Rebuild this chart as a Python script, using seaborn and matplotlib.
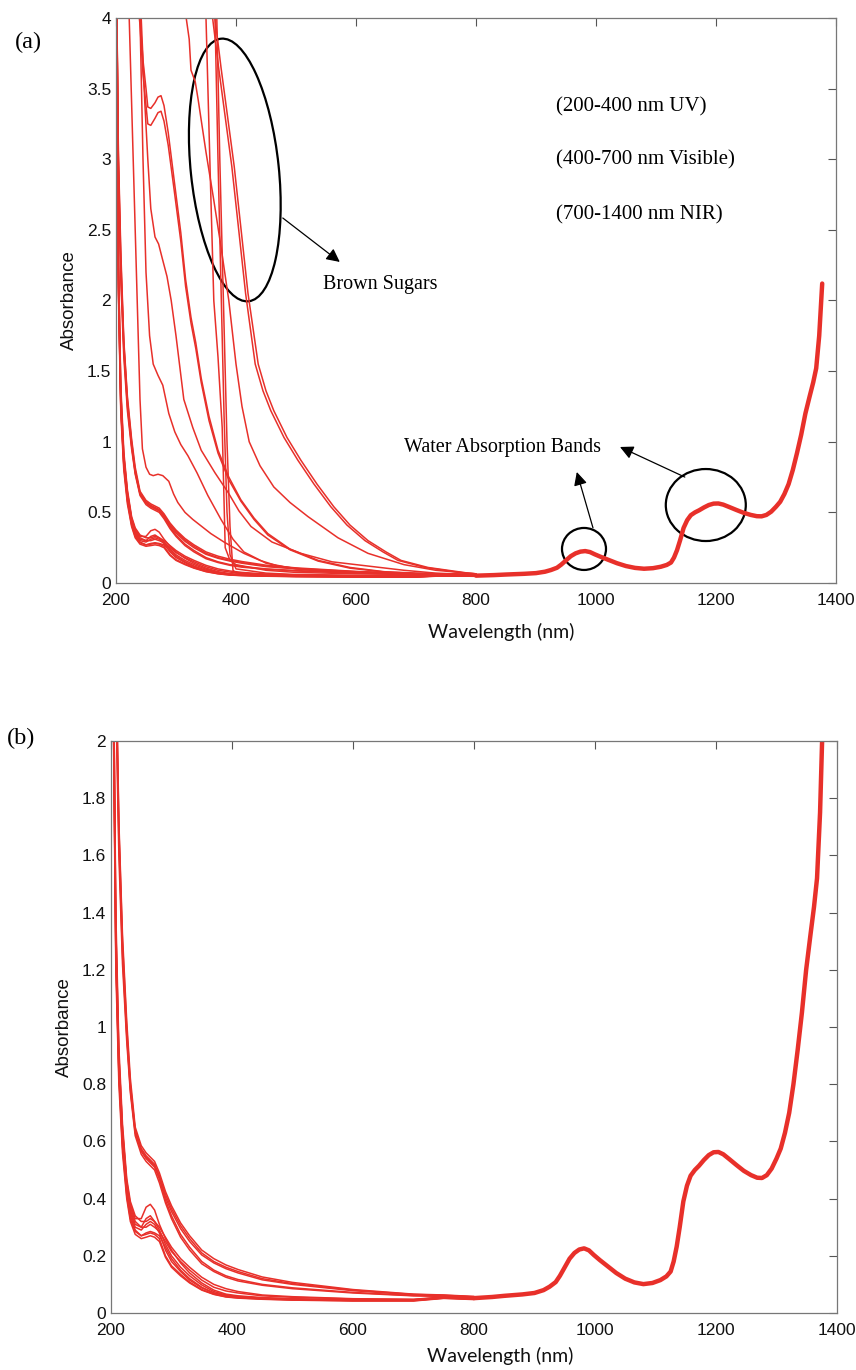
import pandas as pd
import matplotlib
matplotlib.use("Agg")
import matplotlib.pyplot as plt
import seaborn as sns
from matplotlib.patches import Circle
from matplotlib.transforms import Affine2D, ScaledTranslation
from matplotlib.ticker import FormatStrFormatter

RED = "#e8302a"

### DATA ###

# UV-Vis grid shared by the white-sugar spectra (nm)
uv_wl = [200, 204, 208, 213, 219, 226, 232, 240, 250, 258, 265, 272, 280, 290,
         300, 315, 330, 350, 370, 390, 410, 450, 500, 600, 700, 750, 800]

# white sugars, upper bundle (shoulder ~0.52 at 270 nm)
white_u1 = [4.6, 3.0, 2.3, 1.7, 1.3, 1.0, 0.8, 0.64, 0.575, 0.55, 0.535, 0.52, 0.48, 0.415,
            0.365, 0.305, 0.26, 0.21, 0.18, 0.16, 0.145, 0.12, 0.103, 0.08, 0.065, 0.062, 0.057]
white_u2 = [4.6, 2.9, 2.2, 1.65, 1.25, 0.97, 0.78, 0.63, 0.565, 0.54, 0.525, 0.51, 0.47, 0.405,
            0.355, 0.295, 0.25, 0.203, 0.175, 0.155, 0.14, 0.116, 0.1, 0.078, 0.064, 0.061, 0.056]
white_u3 = [4.6, 2.95, 2.25, 1.68, 1.27, 0.98, 0.79, 0.635, 0.57, 0.545, 0.53, 0.515, 0.47, 0.395,
            0.34, 0.275, 0.23, 0.18, 0.15, 0.13, 0.117, 0.1, 0.088, 0.072, 0.061, 0.059, 0.055]
white_u4 = [4.6, 2.85, 2.15, 1.6, 1.22, 0.95, 0.77, 0.62, 0.555, 0.53, 0.515, 0.5, 0.455, 0.385,
            0.33, 0.265, 0.22, 0.172, 0.145, 0.125, 0.112, 0.097, 0.085, 0.07, 0.06, 0.058, 0.054]
white_u5 = [4.6, 3.05, 2.35, 1.72, 1.32, 1.02, 0.82, 0.65, 0.585, 0.56, 0.545, 0.53, 0.49, 0.425,
            0.375, 0.315, 0.27, 0.22, 0.19, 0.168, 0.152, 0.126, 0.107, 0.082, 0.066, 0.063, 0.058]

# white sugars, lower bundle (small band ~0.3 at 262 nm)
white_l1 = [4.6, 2.3, 1.35, 0.9, 0.64, 0.46, 0.38, 0.33, 0.33, 0.37, 0.38, 0.36, 0.31, 0.26,
            0.22, 0.175, 0.14, 0.105, 0.08, 0.066, 0.06, 0.054, 0.05, 0.046, 0.046, 0.055, 0.05]
white_l2 = [4.6, 2.2, 1.3, 0.87, 0.62, 0.44, 0.36, 0.31, 0.3, 0.33, 0.34, 0.32, 0.29, 0.24,
            0.2, 0.16, 0.13, 0.098, 0.075, 0.063, 0.058, 0.052, 0.049, 0.045, 0.045, 0.054, 0.05]
white_l3 = [4.6, 2.15, 1.27, 0.85, 0.6, 0.43, 0.35, 0.3, 0.29, 0.31, 0.32, 0.31, 0.28, 0.22,
            0.18, 0.145, 0.115, 0.088, 0.07, 0.06, 0.055, 0.05, 0.047, 0.044, 0.044, 0.053, 0.049]
white_l4 = [4.6, 2.1, 1.24, 0.83, 0.58, 0.41, 0.33, 0.285, 0.27, 0.275, 0.28, 0.275, 0.26, 0.2,
            0.165, 0.135, 0.108, 0.082, 0.066, 0.057, 0.053, 0.049, 0.046, 0.043, 0.043, 0.052, 0.048]
white_l5 = [4.6, 2.05, 1.2, 0.8, 0.56, 0.4, 0.32, 0.275, 0.26, 0.265, 0.27, 0.265, 0.25, 0.195,
            0.16, 0.13, 0.105, 0.08, 0.065, 0.056, 0.052, 0.048, 0.045, 0.042, 0.042, 0.051, 0.047]
white_l6 = [4.6, 2.3, 1.4, 0.93, 0.66, 0.47, 0.39, 0.34, 0.32, 0.32, 0.33, 0.32, 0.3, 0.265,
            0.23, 0.19, 0.16, 0.125, 0.1, 0.085, 0.075, 0.063, 0.057, 0.05, 0.048, 0.056, 0.052]
white_l7 = [4.6, 2.25, 1.35, 0.9, 0.64, 0.45, 0.37, 0.32, 0.3, 0.3, 0.31, 0.3, 0.285, 0.25,
            0.215, 0.18, 0.15, 0.115, 0.09, 0.077, 0.07, 0.06, 0.055, 0.049, 0.047, 0.055, 0.051]
white_l8 = [4.6, 2.1, 1.25, 0.84, 0.59, 0.42, 0.34, 0.29, 0.27, 0.28, 0.285, 0.28, 0.27, 0.23,
            0.19, 0.15, 0.12, 0.09, 0.07, 0.06, 0.055, 0.05, 0.047, 0.044, 0.044, 0.053, 0.049]

# brown sugars (panel a only), each with its own wavelength points
brown_a_wl = [200, 215, 222, 230, 236, 240, 244, 250, 256, 262, 270, 278, 288, 296, 303,
              315, 328, 343, 358, 380, 413, 440, 470, 525, 600, 700, 800]
brown_a = [4.6, 4.3, 4.0, 2.8, 1.9, 1.3, 0.95, 0.82, 0.77, 0.76, 0.77, 0.76, 0.72, 0.63, 0.57,
           0.5, 0.45, 0.4, 0.35, 0.29, 0.21, 0.16, 0.12, 0.09, 0.075, 0.065, 0.057]

brown_b_wl = [200, 230, 240, 245, 250, 253, 258, 265, 270, 275, 280, 287, 297, 308, 316,
              325, 333, 342, 355, 370, 388, 408, 430, 453, 490, 537, 590, 647, 700, 800]
brown_b1 = [4.6, 4.4, 4.0, 3.7, 3.5, 3.37, 3.36, 3.4, 3.44, 3.45, 3.38, 3.19, 2.85, 2.48, 2.15,
            1.88, 1.7, 1.45, 1.18, 0.94, 0.75, 0.59, 0.46, 0.35, 0.24, 0.16, 0.11, 0.08, 0.07, 0.058]
brown_b2 = [4.6, 4.4, 3.95, 3.6, 3.38, 3.25, 3.24, 3.29, 3.33, 3.34, 3.27, 3.1, 2.78, 2.42, 2.1,
            1.84, 1.66, 1.42, 1.15, 0.92, 0.73, 0.58, 0.45, 0.34, 0.235, 0.155, 0.105, 0.078, 0.068, 0.057]

brown_c_wl = [200, 235, 242, 248, 253, 258, 265, 271, 277, 285, 292, 300, 313, 328, 342,
              365, 387, 405, 425, 460, 508, 560, 620, 680, 733, 800]
brown_c = [4.6, 4.3, 4.0, 3.4, 3.0, 2.65, 2.45, 2.4, 2.3, 2.17, 2.0, 1.75, 1.3, 1.1, 0.94,
           0.78, 0.64, 0.51, 0.4, 0.29, 0.21, 0.15, 0.12, 0.09, 0.07, 0.058]

brown_d_wl = [200, 230, 240, 245, 250, 256, 262, 270, 278, 288, 298, 308, 320, 335, 353,
              375, 395, 413, 450, 500, 560, 630, 700, 800]
brown_d = [4.6, 4.4, 4.0, 3.0, 2.2, 1.75, 1.55, 1.47, 1.4, 1.2, 1.07, 0.98, 0.9, 0.78, 0.62,
           0.45, 0.31, 0.22, 0.14, 0.1, 0.08, 0.07, 0.063, 0.057]

brown_e_wl = [200, 310, 317, 322, 325, 332, 337, 350, 363, 375, 388, 400, 410, 422, 440,
              463, 490, 520, 570, 620, 680, 733, 800]
brown_e = [4.6, 4.3, 4.0, 3.85, 3.63, 3.55, 3.42, 3.05, 2.71, 2.38, 2.0, 1.55, 1.25, 1.0, 0.83,
           0.68, 0.57, 0.47, 0.32, 0.21, 0.13, 0.09, 0.065]

brown_f1_wl = [200, 355, 365, 375, 386, 397, 408, 420, 437, 450, 463, 485, 508, 535, 563,
               590, 620, 650, 675, 720, 787, 800]
brown_f2_wl = [200, 350, 361, 371, 382, 393, 404, 416, 432, 445, 458, 480, 503, 530, 558,
               585, 615, 645, 670, 715, 780, 800]
brown_f = [4.6, 4.3, 4.0, 3.65, 3.3, 2.95, 2.52, 2.05, 1.55, 1.36, 1.22, 1.03, 0.87, 0.7, 0.54,
           0.41, 0.3, 0.22, 0.16, 0.11, 0.07, 0.065]

# near-vertical drops around 350-395 nm
brown_s1_wl = [200, 340, 350, 357, 363, 370, 377, 382, 390, 400, 450, 500, 600, 700, 800]
brown_s1 = [4.6, 4.5, 4.0, 2.9, 2.0, 1.6, 1.1, 0.25, 0.16, 0.13, 0.09, 0.075, 0.065, 0.06, 0.057]
brown_s2_wl = [200, 355, 365, 370, 375, 380, 385, 390, 400, 450, 500, 600, 700, 800]
brown_s2 = [4.6, 4.5, 4.0, 3.0, 2.1, 1.2, 0.5, 0.2, 0.1, 0.07, 0.06, 0.055, 0.05, 0.05]
brown_s3_wl = [200, 360, 368, 373, 379, 385, 390, 395, 400, 450, 500, 600, 700, 800]
brown_s3 = [4.6, 4.5, 4.0, 3.0, 2.0, 1.0, 0.4, 0.09, 0.07, 0.06, 0.055, 0.05, 0.048, 0.048]

# shared NIR part (water bands at ~980 and ~1200 nm)
tail_wl = [800, 830, 850, 880, 900, 915, 925, 935, 942, 950, 958, 966, 974, 982, 990, 998,
           1008, 1020, 1035, 1050, 1065, 1080, 1095, 1108, 1118, 1125, 1130, 1135, 1140,
           1146, 1152, 1158, 1165, 1172, 1180, 1188, 1196, 1204, 1212, 1222, 1234, 1246,
           1258, 1268, 1276, 1284, 1292, 1300, 1307, 1314, 1321, 1328, 1335, 1342, 1349,
           1356, 1362, 1367, 1372, 1377]
tail_abs = [0.052, 0.056, 0.06, 0.065, 0.07, 0.08, 0.092, 0.108, 0.13, 0.16, 0.19, 0.21,
            0.222, 0.226, 0.219, 0.203, 0.185, 0.165, 0.14, 0.12, 0.107, 0.101, 0.105,
            0.115, 0.128, 0.145, 0.18, 0.232, 0.3, 0.39, 0.445, 0.48, 0.5, 0.515, 0.535,
            0.552, 0.562, 0.563, 0.555, 0.538, 0.517, 0.497, 0.482, 0.473, 0.472, 0.482,
            0.505, 0.54, 0.575, 0.63, 0.7, 0.8, 0.92, 1.05, 1.2, 1.32, 1.42, 1.52, 1.75, 2.12]

white = {"U1": white_u1, "U2": white_u2, "U3": white_u3, "U4": white_u4, "U5": white_u5,
         "L1": white_l1, "L2": white_l2, "L3": white_l3, "L4": white_l4,
         "L5": white_l5, "L6": white_l6, "L7": white_l7, "L8": white_l8}
brown = {"A": (brown_a_wl, brown_a), "B1": (brown_b_wl, brown_b1), "B2": (brown_b_wl, brown_b2),
         "C": (brown_c_wl, brown_c), "D": (brown_d_wl, brown_d), "E": (brown_e_wl, brown_e),
         "F1": (brown_f1_wl, brown_f), "F2": (brown_f2_wl, brown_f),
         "S1": (brown_s1_wl, brown_s1), "S2": (brown_s2_wl, brown_s2), "S3": (brown_s3_wl, brown_s3)}

df_white = pd.concat([pd.DataFrame({"wl": uv_wl, "abs": v, "sample": k}) for k, v in white.items()])
df_brown = pd.concat([pd.DataFrame({"wl": w, "abs": v, "sample": k}) for k, (w, v) in brown.items()])
df_all = pd.concat([df_white, df_brown])

### PLOT ###

sns.set_theme(style="white")
plt.rcParams["font.family"] = ["Liberation Sans", "DejaVu Sans"]

W, H = 856, 1370
fig = plt.figure(figsize=(W / 100, H / 100), dpi=100)
ax_a = fig.add_axes([116 / W, 1 - 583 / H, 720 / W, 565 / H])
ax_b = fig.add_axes([111 / W, 1 - 1313 / H, 726 / W, 572 / H])


def draw_spectra(ax, df):
    sns.lineplot(data=df, x="wl", y="abs", units="sample", estimator=None,
                 color=RED, lw=1.1, sort=False, legend=False, ax=ax)
    sns.lineplot(x=tail_wl, y=tail_abs, color=RED, lw=3.2, legend=False, ax=ax)


def style_axes(ax, ymax, ystep, ylab_x, xlab_pos):
    ax.set_xlim(200, 1400)
    ax.set_ylim(0, ymax)
    ax.set_xticks(range(200, 1401, 200))
    ax.set_yticks([i * ystep for i in range(int(round(ymax / ystep)) + 1)])
    ax.yaxis.set_major_formatter(FormatStrFormatter("%g"))
    ax.tick_params(direction="in", top=True, right=True, length=5.5, width=0.8,
                   color="#555555", labelsize=12.5, labelcolor="#111111")
    ax.tick_params(axis="x", pad=7)
    ax.tick_params(axis="y", pad=3.5)
    for s in ax.spines.values():
        s.set_color("#777777")
        s.set_linewidth(0.9)
    ax.set_ylabel("Absorbance", fontsize=13.5, color="#111111")
    ax.yaxis.set_label_coords(ylab_x, 0.5)
    ax.set_xlabel("Wavelength (nm)", fontsize=14, family=["Lato", "DejaVu Sans"],
                  color="#111111", va="center")
    ax.xaxis.set_label_coords(*xlab_pos)


def ring(ax, xc, yc, rx, ry, ang=0):
    # outline sized in pixels, centred at a data position
    tr = Affine2D().scale(rx, ry).rotate_deg(ang) + ScaledTranslation(xc, yc, ax.transData)
    ax.add_patch(Circle((0, 0), 1, transform=tr, fill=False, ec="black", lw=1.6, clip_on=False))


def arrow(ax, start, tip):
    ax.annotate("", xy=tip, xytext=start,
                arrowprops=dict(arrowstyle="-|>", color="black", lw=0.9,
                                mutation_scale=20, shrinkA=0, shrinkB=0))


draw_spectra(ax_a, df_all)
draw_spectra(ax_b, df_white)

style_axes(ax_a, 4, 0.5, -0.053, (0.535, -0.087))
style_axes(ax_b, 2, 0.2, -0.052, (0.536, -0.075))

serif = dict(family=["Liberation Serif", "DejaVu Serif"], color="black")

# panel (a) annotations
ax_a.text(933, 3.37, "(200-400 nm UV)", fontsize=15, va="center", **serif)
ax_a.text(933, 2.995, "(400-700 nm Visible)", fontsize=15, va="center", **serif)
ax_a.text(933, 2.605, "(700-1400 nm NIR)", fontsize=15, va="center", **serif)
ax_a.text(545, 2.11, "Brown Sugars", fontsize=14.5, va="center", **serif)
ax_a.text(845, 0.956, "Water Absorption Bands", fontsize=14.5, va="center", ha="center", **serif)

ring(ax_a, 398, 2.924, 44, 132, 6)
ring(ax_a, 980, 0.241, 22, 21)
ring(ax_a, 1183, 0.552, 40, 36)

arrow(ax_a, (478, 2.584), (573, 2.273))
arrow(ax_a, (1148, 0.75), (1040, 0.963))
arrow(ax_a, (995, 0.39), (968, 0.786))

fig.text(15 / W, 1 - 42 / H, "(a)", fontsize=17.5, va="center", ha="left", **serif)
fig.text(7 / W, 1 - 738 / H, "(b)", fontsize=17.5, va="center", ha="left", **serif)

plt.savefig("out.png", dpi=100)
